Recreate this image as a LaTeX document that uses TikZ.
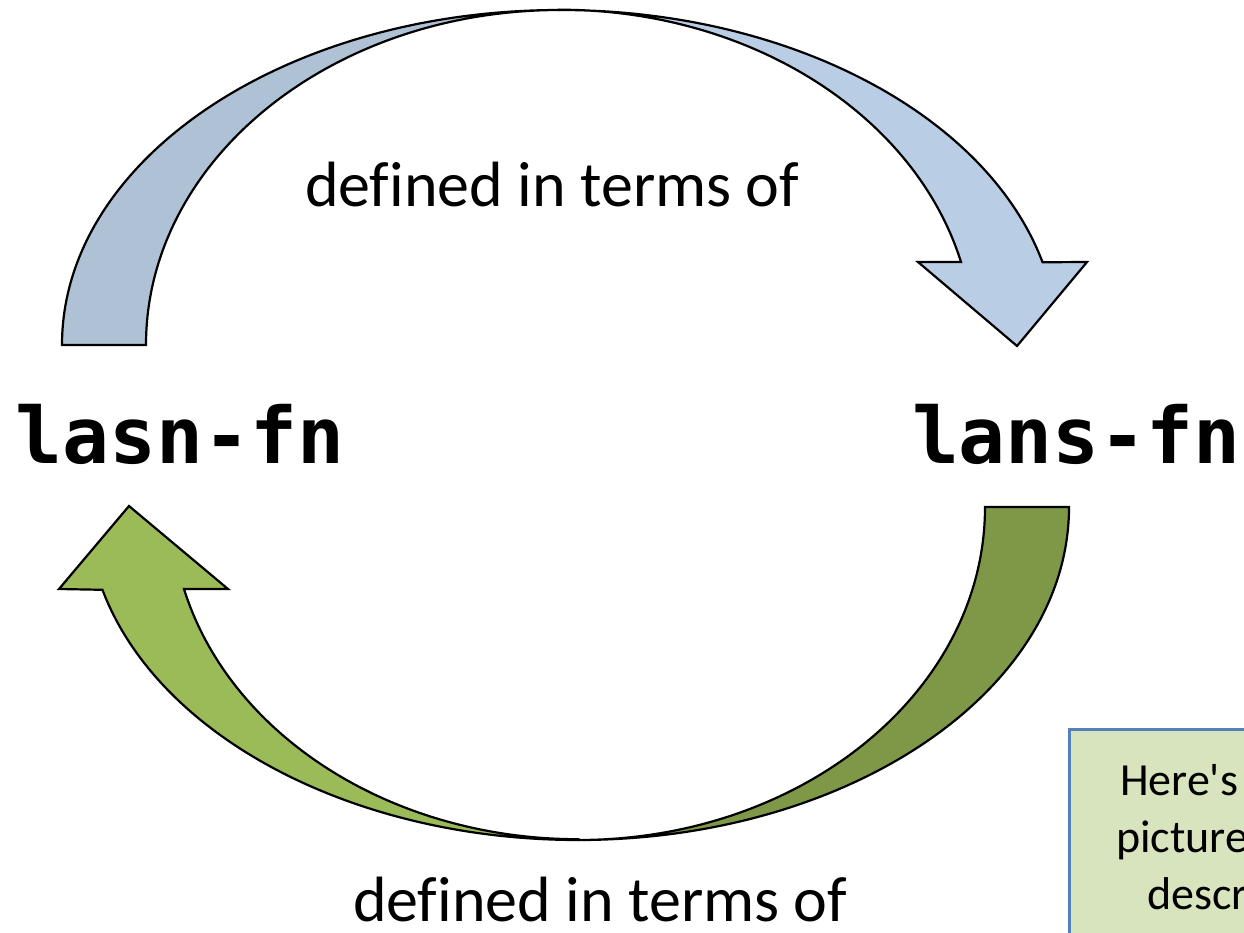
\documentclass[tikz,border=0pt]{standalone}
\usepackage{fontspec}
\setmainfont[Ligatures=NoCommon]{Carlito}
\setmonofont{DejaVu Sans Mono}
\definecolor{backblue}{HTML}{AFC1D5}
\definecolor{frontblue}{HTML}{B9CDE5}
\definecolor{backgreen}{HTML}{7F9848}
\definecolor{frontgreen}{HTML}{9BBB59}
\definecolor{notefill}{HTML}{D7E4BD}
\definecolor{noteline}{HTML}{5480BE}

\begin{document}
\begin{tikzpicture}[x=1pt,y=-1pt,
				every node/.style={inner sep=0pt,outer sep=0pt},
				fnname/.style={anchor=base west,font=\ttfamily\bfseries\fontsize{78}{78}\selectfont},
				relation/.style={anchor=base west,font=\fontsize{64}{64}\selectfont},
				band/.style={draw=black,line width=2.2pt,line join=miter}]
				\useasboundingbox (0,0) rectangle (1244,933);
				\clip (0,0) rectangle (1244,933);

				% top arrow: lasn-fn -> lans-fn
				\filldraw[band,fill=backblue] (62,345) arc[start angle=180,end angle=270,x radius=498,y radius=335]
					arc[start angle=270,end angle=180,x radius=414,y radius=335] -- cycle;
				\filldraw[band,fill=frontblue] (560,10) arc[start angle=270,end angle=345.7,x radius=498,y radius=335]
					-- (1087,262) -- (1017,346) -- (918,262) -- (961,262)
					arc[start angle=345.7,end angle=270,x radius=414,y radius=335] -- cycle;

				% bottom arrow: lans-fn -> lasn-fn
				\filldraw[band,fill=backgreen] (1069,507) arc[start angle=0,end angle=90,x radius=491,y radius=333]
					arc[start angle=90,end angle=0,x radius=407,y radius=333] -- cycle;
				\filldraw[band,fill=frontgreen] (578,840) arc[start angle=90,end angle=165.6,x radius=491,y radius=333]
					-- (59,589) -- (129,506) -- (228,589) -- (184,589)
					arc[start angle=165.6,end angle=90,x radius=407,y radius=333] -- cycle;

				\node[fnname]   (lasn) at (16,463)  {lasn-fn};
				\node[fnname]   (lans) at (912,463) {lans-fn};
				\node[relation] (top)  at (305,207) {defined in terms of};
				\node[relation] (bot)  at (353,921) {defined in terms of};

				% note box, cut off by the frame
				\filldraw[fill=notefill,draw=noteline,line width=3pt] (1069,729) rectangle (1300,990);
				\node[anchor=base west,align=left,font=\fontsize{46}{57}\selectfont] (note) at (1120,909)
					{Here\textquotesingle s\\\hspace*{-4pt}picture\\\hspace*{27pt}descr};
			\end{tikzpicture}
\end{document}
